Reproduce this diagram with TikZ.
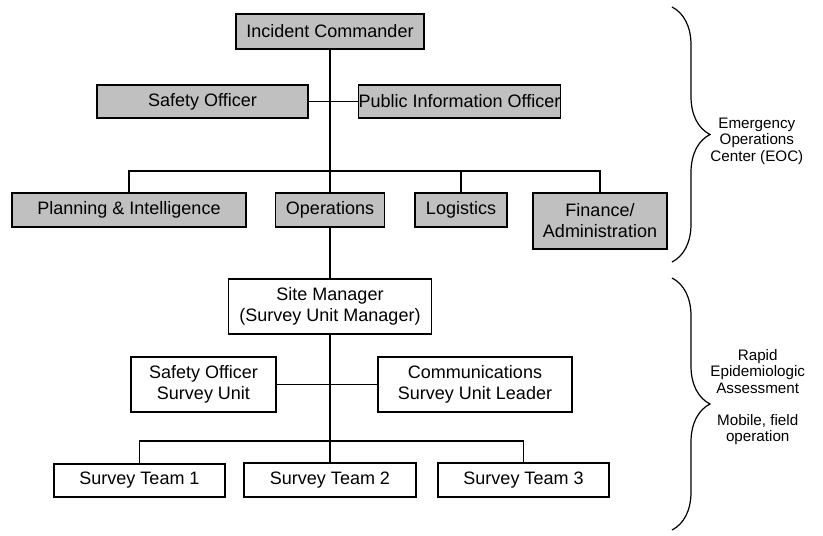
\documentclass[tikz,border=0pt]{standalone}
\usepackage{fontspec}
\setmainfont{Liberation Sans}
\usetikzlibrary{positioning,decorations.pathreplacing}
\definecolor{boxgray}{HTML}{C0C0C0}

\begin{document}
\begin{tikzpicture}[x=0.5pt, y=-0.5pt,
    box/.style={rectangle, draw, line width=0.6pt, inner sep=0pt, align=center, font=\fontsize{9}{10.5}\selectfont},
    gbox/.style={box, fill=boxgray},
    wbox/.style={box, fill=white},
    side/.style={align=center, inner sep=0pt, anchor=west, font=\fontsize{7.6}{8.3}\selectfont},
    link/.style={line width=0.6pt},
    curly/.style={decorate, decoration={brace, amplitude=19pt}, line width=0.6pt}]
    \useasboundingbox (0,0) rectangle (823,535);

    % emergency operations center
    \node [gbox, minimum width=94pt, minimum height=17.5pt] (ic) at (330,31.5) {Incident Commander};
    \node [gbox, minimum width=105.5pt, minimum height=16.5pt] (so) at (202.5,101.5) {Safety Officer};
    \node [gbox, minimum width=98pt, minimum height=16.5pt] (pio) at (459.5,101.5) {Public Information Officer};
    \node [gbox, minimum width=117pt, minimum height=17pt] (plan) at (129,210) {Planning \& Intelligence};
    \node [gbox, minimum width=54.5pt, minimum height=17pt] (ops) at (330,210) {Operations};
    \node [gbox, minimum width=46pt, minimum height=17pt] (log) at (461,210) {Logistics};
    \node [gbox, minimum width=67pt, minimum height=28pt] (fin) at (600,221) {Finance/\\Administration};

    % field survey unit
    \node [wbox, minimum width=101.5pt, minimum height=27.5pt] (site) at (330,306.5) {Site Manager\\(Survey Unit Manager)};
    \node [wbox, minimum width=72.5pt, minimum height=27.5pt] (sosu) at (203.5,384.5) {Safety Officer\\Survey Unit};
    \node [wbox, minimum width=97pt, minimum height=27.5pt] (comm) at (475,384.5) {Communications\\Survey Unit Leader};
    \node [wbox, minimum width=85.5pt, minimum height=16.5pt] (team1) at (139.5,480.5) {Survey Team 1};
    \node [wbox, minimum width=86pt, minimum height=17pt] (team2) at (330,480) {Survey Team 2};
    \node [wbox, minimum width=85.5pt, minimum height=17pt] (team3) at (523.5,480) {Survey Team 3};

    \coordinate (bar) at (330,171);
    \coordinate (tbar) at (330,441);

    \draw [link] (ic) -- (ops);
    \draw [link] (so) -- (pio);
    \draw [link] (plan.north) |- (bar) -| (fin.north);
    \draw [link] (log.north) |- (bar);
    \draw [link] (ops) -- (site);
    \draw [link] (site) -- (team2);
    \draw [link] (sosu) -- (comm);
    \draw [link] (team1.north) |- (tbar) -| (team3.north);

    % braces and side notes
    \draw [curly] (672,7) -- (672,262);
    \draw [curly] (672,278) -- (672,530);
    \node [side] (eoc) at (710,141) {Emergency\\Operations\\Center (EOC)};
    \node [side] (rea) at (710,397) {Rapid\\Epidemiologic\\Assessment\\[7.5pt]Mobile, field\\operation};
\end{tikzpicture}
\end{document}
